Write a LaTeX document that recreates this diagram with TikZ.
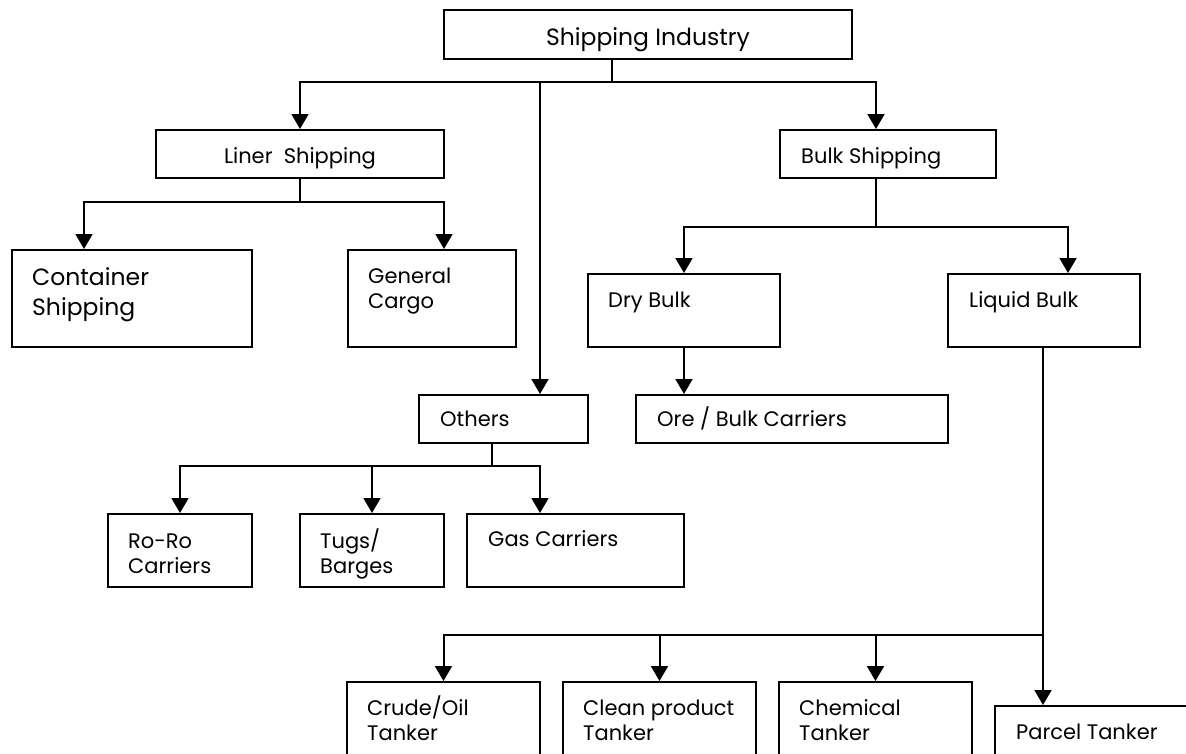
\documentclass[tikz,border=0pt]{standalone}
\usepackage{fontspec}
\setmainfont{Poppins}
\usetikzlibrary{arrows.meta}
\begin{document}
\begin{tikzpicture}[x=1pt,y=-1pt,
  box/.style={draw, line width=2pt, inner sep=0pt},
  ln/.style={line width=2pt},
  arr/.style={line width=2pt, -{Triangle[width=17pt,length=15pt]}},
  lbl/.style={anchor=base west, inner sep=0pt, align=left, font=\fontsize{21}{25}\selectfont},
  big/.style={font=\fontsize{23.5}{30}\selectfont}]
\useasboundingbox (0,0) rectangle (1186,753);
\clip (0,0) rectangle (1186,753);
% boxes
\node[box, minimum width=408pt, minimum height=49pt] (ind) at (648,34.5) {};
\node[box, minimum width=288pt, minimum height=48pt] (liner) at (300,154) {};
\node[box, minimum width=216pt, minimum height=48pt] (bulk) at (888,154) {};
\node[box, minimum width=240pt, minimum height=97pt] (cont) at (132,298.5) {};
\node[box, minimum width=168pt, minimum height=97pt] (gen) at (432,298.5) {};
\node[box, minimum width=192pt, minimum height=73pt] (dry) at (684,310.5) {};
\node[box, minimum width=192pt, minimum height=73pt] (liq) at (1044,310.5) {};
\node[box, minimum width=169pt, minimum height=48pt] (oth) at (503.5,419) {};
\node[box, minimum width=312pt, minimum height=48pt] (ore) at (792,419) {};
\node[box, minimum width=144pt, minimum height=73pt] (roro) at (180,550.5) {};
\node[box, minimum width=144pt, minimum height=73pt] (tugs) at (372,550.5) {};
\node[box, minimum width=217pt, minimum height=73pt] (gas) at (575.5,550.5) {};
\node[box, minimum width=193pt, minimum height=98pt] (crude) at (443.5,731) {};
\node[box, minimum width=193pt, minimum height=98pt] (clean) at (659.5,731) {};
\node[box, minimum width=193pt, minimum height=98pt] (chem) at (875.5,731) {};
\node[box, minimum width=205pt, minimum height=74pt] (parcel) at (1097.5,743) {};
% labels (multi-line labels are anchored at the baseline of their last line)
\node[lbl, big, anchor=base] (tind) at (648,45) {Shipping Industry};
\node[lbl, anchor=base] (tliner) at (300,163) {Liner~~Shipping};
\node[lbl] (tbulk) at (801,163) {Bulk Shipping};
\node[lbl, big] (tcont) at (32,315) {Container\\Shipping};
\node[lbl] (tgen) at (368,308) {General\\Cargo};
\node[lbl] (tdry) at (608,307) {Dry Bulk};
\node[lbl] (tliq) at (969,307) {Liquid Bulk};
\node[lbl] (toth) at (440,426) {Others};
\node[lbl] (tore) at (657,426) {Ore / Bulk Carriers};
\node[lbl] (troro) at (128,573) {Ro-Ro\\Carriers};
\node[lbl] (ttugs) at (320,573) {Tugs/\\Barges};
\node[lbl] (tgas) at (488,546) {Gas Carriers};
\node[lbl] (tcrude) at (367,740) {Crude/Oil\\Tanker};
\node[lbl] (tclean) at (583,740) {Clean product\\Tanker};
\node[lbl] (tchem) at (799,740) {Chemical\\Tanker};
\node[lbl] (tparcel) at (1016,739) {Parcel Tanker};
% connectors: top level
\coordinate (j0) at (612,82);
\draw[ln] ([xshift=-36pt]ind.south) -- (j0);
\draw[arr] (j0) -| (liner.north);
\draw[arr] (j0) -| ([xshift=-12pt]bulk.north);
\coordinate (m1) at ([xshift=36.5pt]oth.north);
\draw[arr] (m1 |- j0) -- (m1);
% liner
\coordinate (j1) at (300,202);
\draw[ln] (liner.south) -- (j1);
\draw[arr] (j1) -| ([xshift=-48pt]cont.north);
\draw[arr] (j1) -| ([xshift=12pt]gen.north);
% bulk
\coordinate (j2) at (876,227);
\draw[ln] ([xshift=-12pt]bulk.south) -- (j2);
\draw[arr] (j2) -| (dry.north);
\draw[arr] (j2) -| ([xshift=24pt]liq.north);
\draw[arr] (dry.south) -- (dry.south |- ore.north);
% others
\coordinate (j3) at (492,466);
\draw[ln] ([xshift=-11.5pt]oth.south) -- (j3);
\draw[arr] (j3) -| (roro.north);
\draw[arr] (tugs.north |- j3) -- (tugs.north);
\draw[arr] (j3) -| ([xshift=-35.5pt]gas.north);
% liquid
\coordinate (j4) at (1043,635);
\draw[ln] ([xshift=-1pt]liq.south) -- (j4);
\draw[arr] (j4) -- (j4 |- parcel.north);
\draw[arr] (j4) -| (crude.north);
\draw[arr] (clean.north |- j4) -- (clean.north);
\draw[arr] (chem.north |- j4) -- (chem.north);
\end{tikzpicture}
\end{document}
